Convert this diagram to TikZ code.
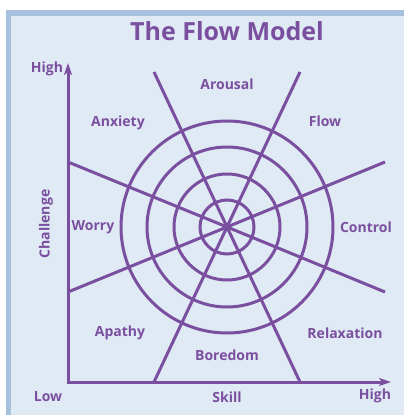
\documentclass[tikz,border=0pt]{standalone}
\usepackage{fontspec}
\setmainfont{Open Sans}
\usetikzlibrary{arrows.meta}
\definecolor{flowpurple}{HTML}{7B4FA0}
\definecolor{frameblue}{HTML}{A6C1DD}
\definecolor{fillblue}{HTML}{DFEAF4}
\begin{document}
\begin{tikzpicture}[x=1pt,y=-1pt,
  lbl/.style={text=flowpurple,font=\bfseries\fontsize{14}{16}\selectfont,inner sep=0pt},
  ttl/.style={text=flowpurple,font=\bfseries\fontsize{25}{28}\selectfont,inner sep=0pt},
  web/.style={draw=flowpurple,line width=3pt},
  axis/.style={draw=flowpurple,line width=3pt,-{Stealth[length=12pt,width=8pt,inset=3pt]}}]
\useasboundingbox (0,0) rectangle (404,415);
% frame
\fill[frameblue] (6,10) rectangle (404,415);
\fill[fillblue] (11,16) rectangle (404,415);
% center
\coordinate (c) at (227,227);
% circles
\foreach \r in {27,53,80,106} \draw[web] (c) circle[radius=\r];
% spokes
\coordinate (l1) at (68,162); \coordinate (r1) at (385,292);
\coordinate (l2) at (68,292); \coordinate (r2) at (385,162);
\coordinate (t1) at (154,72); \coordinate (b1) at (300,382);
\coordinate (t2) at (300,72); \coordinate (b2) at (154,382);
\draw[web] (l1) -- (c) -- (r1);
\draw[web] (l2) -- (c) -- (r2);
\draw[web] (t1) -- (c) -- (b1);
\draw[web] (t2) -- (c) -- (b2);
% axes
\coordinate (o) at (68,382);
\coordinate (ytop) at (68,63);
\coordinate (xend) at (391,382);
\draw[axis] (o) -- (ytop);
\draw[axis] ([xshift=-1.5pt]o) -- (xend);
% labels
\node[ttl] (title) at (227,31) {The Flow Model};
\node[lbl] (yhigh) at (47,69) {High};
\node[lbl] (arousal) at (227,84) {Arousal};
\node[lbl] (anxiety) at (118,123) {Anxiety};
\node[lbl] (flow) at (325,121) {Flow};
\node[lbl] (worry) at (93,227) {Worry};
\node[lbl] (control) at (366,227) {Control};
\node[lbl,rotate=90] (challenge) at (46,224) {Challenge};
\node[lbl] (apathy) at (120,333) {Apathy};
\node[lbl] (relax) at (345,333) {Relaxation};
\node[lbl] (boredom) at (227,355) {Boredom};
\node[lbl] (low) at (48,397) {Low};
\node[lbl] (skill) at (227,397) {Skill};
\node[lbl] (xhigh) at (375,396) {High};
\end{tikzpicture}
\end{document}
